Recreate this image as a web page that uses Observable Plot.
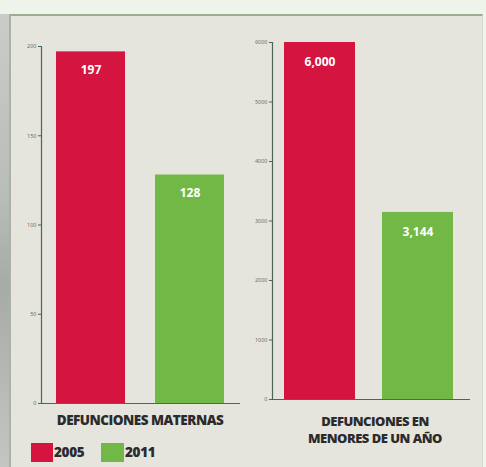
<!DOCTYPE html>
<html>
<head>
<meta charset="utf-8">
<script src="https://cdn.jsdelivr.net/npm/d3@7"></script>
<script src="https://cdn.jsdelivr.net/npm/@observablehq/plot@0.6"></script>
<style>
  html, body { margin: 0; padding: 0; }
  body { width: 486px; height: 467px; overflow: hidden; background: #eef4ea; font-family: "Open Sans", sans-serif; }
  #wrap { position: relative; width: 486px; height: 467px; }
  #strip { position: absolute; left: 0; top: 14px; width: 9px; height: 453px;
           background: linear-gradient(180deg, #c9ccc9 0%, #b9bdb9 40%, #a7aba8 60%, #c3c6c3 100%); }
  #panel { position: absolute; left: 9px; top: 14px; width: 474px; height: 453px;
           background: #e5e5dd; border-top: 2px solid #9cae90; border-left: 2px solid #a6b59c;
           border-right: 1px solid #d5dccf; box-sizing: border-box; }
  .chart { position: absolute; top: 0; }
  .lbl { position: absolute; font-weight: 800; color: #2b2b2b; text-align: center; font-size: 13.5px;
         letter-spacing: -0.5px; line-height: 16px; font-family: "Open Sans", sans-serif; }
  .lbl2 { font-size: 13px; line-height: 17px; }
  .sw { position: absolute; }
  .lg { position: absolute; font-weight: 800; color: #2b2b2b; font-size: 13.5px; line-height: 19px; letter-spacing: -0.3px; }
</style>
</head>
<body>
<div id="wrap">
  <div id="strip"></div>
  <div id="panel"></div>
  <div id="c1" class="chart" style="left:0px"></div>
  <div id="c2" class="chart" style="left:243px"></div>
  <div class="lbl" style="left:40px; top:412px; width:200px;">DEFUNCIONES MATERNAS</div>
  <div class="lbl lbl2" style="left:275px; top:413px; width:200px;">DEFUNCIONES EN<br>MENORES DE UN AÑO</div>
  <div class="sw" style="left:31px; top:443px; width:22px; height:19px; background:#d4153f;"></div>
  <div class="lg" style="left:54px; top:443px;">2005</div>
  <div class="sw" style="left:101px; top:443px; width:23px; height:19px; background:#72b847;"></div>
  <div class="lg" style="left:125px; top:443px;">2011</div>
</div>
<script>
const years = ["2005", "2011"];
const colors = ["#d4153f", "#72b847"];
const maternas = [197, 128];
const maternasLabels = ["197", "128"];
const menores = [6000, 3144];
const menoresLabels = ["6,000", "3,144"];
const ticksMaternas = [0, 50, 100, 150, 200];
const ticksMenores = [0, 1000, 2000, 3000, 4000, 5000, 6000];

function chart(values, labels, ticks, maxY, opts) {
  const data = years.map((y, i) => ({year: y, value: values[i], label: labels[i]}));
  return Plot.plot({
    width: 243,
    height: 410,
    marginLeft: opts.ml,
    marginRight: opts.mr,
    marginTop: opts.mt,
    marginBottom: opts.mb,
    style: {background: "transparent", overflow: "visible"},
    x: {domain: years, paddingInner: opts.pi, paddingOuter: opts.po, align: opts.align, axis: null},
    y: {domain: [0, maxY], axis: null},
    color: {domain: years, range: colors},
    marks: [
      Plot.barY(data, {x: "year", y: "value", fill: "year"}),
      Plot.ruleY([0], {stroke: "#4d6659", strokeWidth: 1}),
      Plot.frame({anchor: "left", stroke: "#4d6659", strokeWidth: 1.2}),
      Plot.axisY(ticks, {anchor: "left", label: null, tickSize: 3, tickPadding: 2, fontSize: 5.5, color: "#6e6e6e", stroke: "#4d6659", tickFormat: d => String(d)}),
      Plot.text(data, {x: "year", y: "value", text: "label", dy: opts.dy, fill: "white", fontWeight: "bold", fontSize: 12, fontFamily: "Open Sans, sans-serif"})
    ]
  });
}

document.getElementById("c1").append(chart(maternas, maternasLabels, ticksMaternas, 200,
  {ml: 41, mr: 3, mt: 46, mb: 7, pi: 0.3, po: 0.15, align: 0.5, dy: 18}));
document.getElementById("c2").append(chart(menores, menoresLabels, ticksMenores, 6000,
  {ml: 29, mr: 16, mt: 42, mb: 11, pi: 0.28, po: 0.15, align: 0.4, dy: 20}));
</script>
</body>
</html>
